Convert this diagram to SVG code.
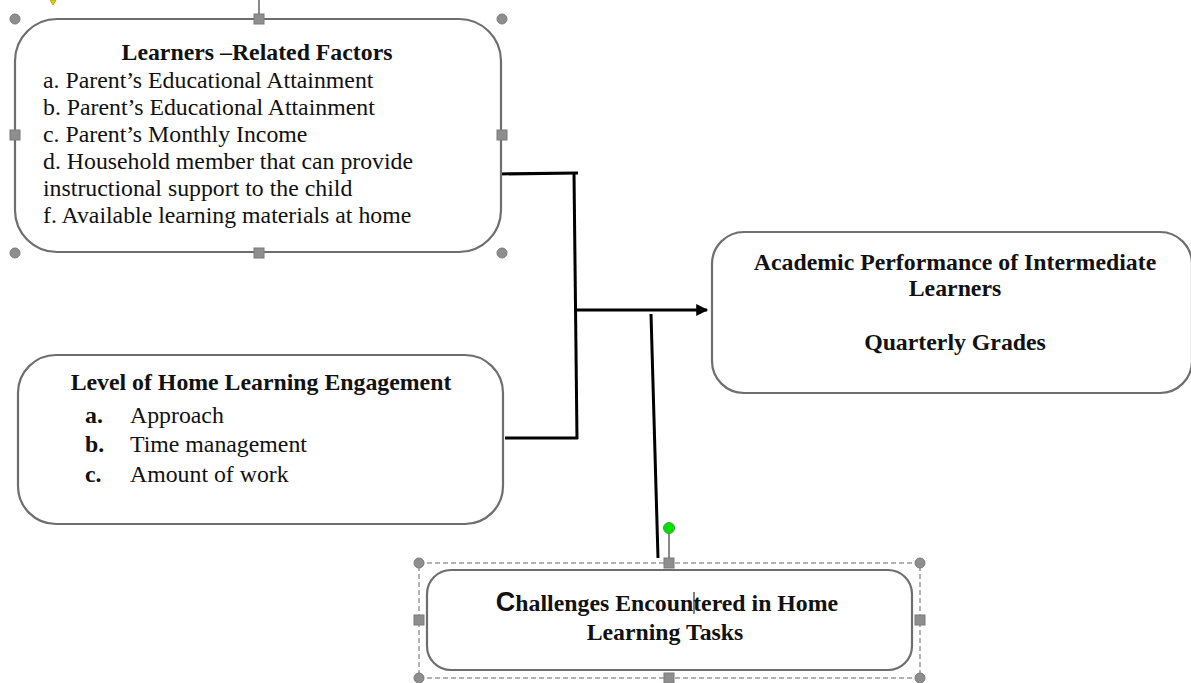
<svg xmlns="http://www.w3.org/2000/svg" width="1191" height="683" viewBox="0 0 1191 683">
<defs>
<style>
.box{fill:#fff;stroke:#6e6e6e;stroke-width:2.2}
.t{font-family:"Liberation Serif","Times New Roman",serif;font-size:23.8px;fill:#111}
.b{font-weight:bold}
.c{text-anchor:middle}
.ln{stroke:#000;stroke-width:3;fill:none}
.h{fill:#8e8e8e;stroke:#7a7a7a;stroke-width:1}
.sel{fill:none;stroke:#9a9a9a;stroke-width:1.5;stroke-dasharray:5 3}
</style>
<marker id="ah" viewBox="0 0 10 10" refX="9" refY="5" markerWidth="4.5" markerHeight="4" orient="auto" markerUnits="strokeWidth">
<path d="M0,0 L10,5 L0,10 z" fill="#000"/>
</marker>
</defs>
<rect width="1191" height="683" fill="#fff"/>

<g id="connectors">
<path class="ln" d="M498,174 L578,173"/>
<path class="ln" d="M574,173 L577,439"/>
<path class="ln" d="M505,438 L578,438"/>
<path class="ln" d="M577,310 L707,310" marker-end="url(#ah)"/>
<path class="ln" d="M651,314 L658,558"/>
</g>

<g id="node-learners">
<line x1="259" y1="0" x2="259" y2="15" stroke="#8a8a8a" stroke-width="2"/>
<path d="M50,0 L56,0 L53,5 z" fill="#f0d000" stroke="#b09000" stroke-width="0.8"/>
<rect class="box" x="15" y="19" width="486" height="233" rx="42" ry="42"/>
<text class="t b c" x="257" y="60">Learners –Related Factors</text>
<text class="t" x="43" y="88">a. Parent’s Educational Attainment</text>
<text class="t" x="43" y="115">b. Parent’s Educational Attainment</text>
<text class="t" x="43" y="142">c. Parent’s Monthly Income</text>
<text class="t" x="43" y="169">d. Household member that can provide</text>
<text class="t" x="43" y="196">instructional support to the child</text>
<text class="t" x="43" y="223">f. Available learning materials at home</text>
<circle class="h" cx="15" cy="19" r="5"/>
<circle class="h" cx="502" cy="19" r="5"/>
<circle class="h" cx="15" cy="253" r="5"/>
<circle class="h" cx="502" cy="253" r="5"/>
<rect class="h" x="254" y="14" width="10" height="10"/>
<rect class="h" x="254" y="248" width="10" height="10"/>
<rect class="h" x="10" y="130" width="10" height="10"/>
<rect class="h" x="497" y="130" width="10" height="10"/>
</g>

<g id="node-engagement">
<rect class="box" x="18" y="355" width="485" height="169" rx="38" ry="38"/>
<text class="t b c" x="261" y="390">Level of Home Learning Engagement</text>
<text class="t b" x="85" y="423">a.</text>
<text class="t" x="130" y="423">Approach</text>
<text class="t b" x="85" y="452">b.</text>
<text class="t" x="130" y="452">Time management</text>
<text class="t b" x="85" y="482">c.</text>
<text class="t" x="130" y="482">Amount of work</text>
</g>

<g id="node-academic">
<rect class="box" x="712" y="232" width="480" height="161" rx="32" ry="32"/>
<text class="t b c" x="955" y="270">Academic Performance of Intermediate</text>
<text class="t b c" x="955" y="296">Learners</text>
<text class="t b c" x="955" y="350">Quarterly Grades</text>
</g>

<g id="node-challenges">
<line x1="669" y1="533" x2="669" y2="558" stroke="#8a8a8a" stroke-width="2"/>
<circle cx="669" cy="528" r="5.5" fill="#00e000" stroke="#40a040" stroke-width="1"/>
<rect class="sel" x="419" y="563" width="501" height="115"/>
<rect class="box" x="427" y="570" width="485" height="100" rx="24" ry="24"/>
<text class="t b c" x="667" y="611"><tspan font-family="Liberation Sans, Arial, sans-serif" font-size="27">C</tspan>hallenges Encountered in Home</text>
<line x1="694" y1="592" x2="694" y2="614" stroke="#000" stroke-width="1"/>
<text class="t b c" x="665" y="640">Learning Tasks</text>
<circle class="h" cx="419" cy="563" r="5"/>
<circle class="h" cx="920" cy="563" r="5"/>
<circle class="h" cx="419" cy="678" r="5"/>
<circle class="h" cx="920" cy="678" r="5"/>
<rect class="h" x="664" y="558" width="10" height="10"/>
<rect class="h" x="664" y="673" width="10" height="10"/>
<rect class="h" x="414" y="615" width="10" height="10"/>
<rect class="h" x="915" y="615" width="10" height="10"/>
</g>
</svg>
